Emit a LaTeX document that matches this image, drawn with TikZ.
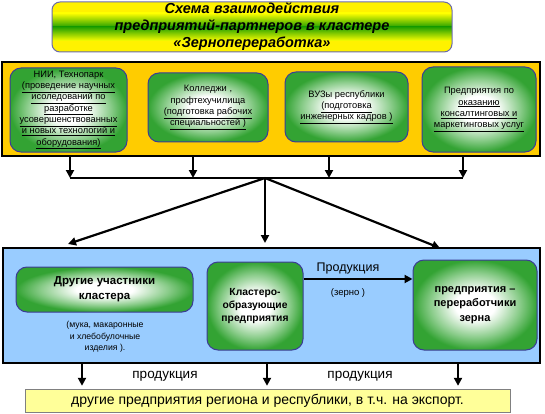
\documentclass[tikz,border=0pt]{standalone}
\usepackage{fontspec}
\setmainfont{Liberation Sans}
\definecolor{goldframe}{HTML}{FFCC00}
\definecolor{blueframe}{HTML}{99CCFF}
\definecolor{exportfill}{HTML}{FFFF99}
\definecolor{gborder}{HTML}{3C3C96}
\definecolor{gmid}{HTML}{8ACC8A}
\definecolor{gdark}{HTML}{33A333}
\definecolor{tborder}{HTML}{6A6AAA}
\definecolor{tgreen}{HTML}{22A000}
\usepackage{tikz}
\usetikzlibrary{positioning, calc, arrows.meta}
\pgfdeclareradialshading{greenglow}{\pgfpoint{0bp}{0bp}}{color(0bp)=(white); color(8bp)=(white); color(18bp)=(gmid); color(25bp)=(gdark); color(50bp)=(gdark)}

\begin{document}
\begin{tikzpicture}[x=1pt, y=-1pt,
  frame/.style={draw, line width=2pt, minimum width=#1, inner sep=0pt},
  gbox/.style={draw=gborder, line width=1pt, rounded corners=11pt, shading=greenglow,
    align=center, inner sep=1pt, minimum width=#1},
  small/.style={font=\fontsize{9.3}{11.3}\selectfont},
  arr/.style={line width=2.2pt, -{Triangle[length=8pt, width=8pt]}},
  lbl/.style={font=\fontsize{13.5}{15}\selectfont},
]

\useasboundingbox (0,0) rectangle (545,414);

% заголовок: желто-зеленая заливка
\begin{scope}
  \clip[rounded corners=8pt] (52,2) rectangle (452,52);
  \fill[yellow] (52,2) rectangle (452,52);
  \shade[top color=yellow, bottom color=tgreen] (52,13) rectangle (452,27.2);
  \shade[top color=tgreen, bottom color=yellow] (52,27) rectangle (452,41);
\end{scope}
\node[draw=tborder, line width=1pt, rounded corners=8pt,
  minimum width=400pt, minimum height=50pt, inner sep=0pt, align=center,
  font=\fontsize{14.5}{17}\selectfont\bfseries\itshape] (title) at (252,27)
  {Схема взаимодействия\\предприятий-партнеров в кластере\\«Зернопереработка»};

% партнеры кластера
\node[frame=538pt, fill=goldframe, minimum height=94pt] (topframe) at (271,109) {};

\node[gbox=117pt, minimum height=84pt, small] (nii) at (68.5,110)
  {НИИ, Технопарк\\\underline{(проведение научных}\\\underline{исоледований по}\\
   \underline{разработке}\\\underline{усовершенствованных}\\\underline{и новых технологий и}\\
   \underline{оборудования)}};
\node[gbox=120pt, minimum height=69pt, small] (college) at (208,107.5)
  {Колледжи ,\\профтехучилища\\\underline{(подготовка рабочих}\\\underline{специальностей )}};
\node[gbox=123pt, minimum height=70pt, small] (vuz) at (346.5,107)
  {ВУЗы республики\\\underline{(подготовка}\\\underline{инженерных кадров )}};
\node[gbox=114pt, minimum height=85pt, small] (consult) at (479,109.5)
  {Предприятия по\\\underline{оказанию}\\\underline{консалтинговых и}\\\underline{маркетинговых услуг}};

% шина
\coordinate (b1) at (70,178);
\coordinate (b2) at (193,178);
\coordinate (b3) at (329,178);
\coordinate (b4) at (463,178);
\coordinate (hub) at (265,178);
\foreach \b in {b1,b2,b3,b4}
  \draw[arr] (\b |- topframe.south) -- (\b);
\draw[line width=2.2pt] (b1) -- (b4);

% ядро кластера
\node[frame=537pt, fill=blueframe, minimum height=115pt] (botframe) at (271.5,305.5) {};

\coordinate (t1) at (68,244);
\coordinate (t2) at (265,243);
\coordinate (t3) at (440,248);
\foreach \t in {t1,t2,t3}
  \draw[arr] (hub) -- (\t);

\node[gbox=177pt, minimum height=45pt, font=\fontsize{11.5}{15}\selectfont\bfseries] (other) at (104.5,289.5)
  {Другие участники\\кластера};
\node[align=center, font=\fontsize{8.7}{11.5}\selectfont] (othernote) at (105,337)
  {(мука, макаронные\\и хлебобулочные\\изделия ).};
\node[gbox=96pt, minimum height=88pt, font=\fontsize{10.3}{13}\selectfont\bfseries] (core) at (255,306)
  {Кластеро-\\образующие\\предприятия};
\node[gbox=124pt, minimum height=90pt, font=\fontsize{11}{14.5}\selectfont\bfseries] (proc) at (475,305)
  {предприятия --\\переработчики\\зерна};

\coordinate (pr) at ([yshift=27pt]core.east);
\draw[arr] (pr) -- (pr -| proc.west);
\node[font=\fontsize{12.5}{15}\selectfont] (prodlbl) at (348,268) {Продукция};
\node[font=\fontsize{9.5}{11}\selectfont] (grain) at (348,293) {(зерно )};

% выход
\node[draw=gray, fill=exportfill, minimum width=485pt, minimum height=23pt, inner sep=0pt,
  font=\fontsize{14}{16}\selectfont] (export) at (267.5,400.5)
  {другие предприятия региона и республики, в т.ч. на экспорт.};
\foreach \x in {82,267,458}
  \draw[arr, shorten >=3pt] (\x,0 |- botframe.south) -- (\x,0 |- export.north);
\node[lbl] (out1) at (165,376) {продукция};
\node[lbl] (out2) at (360,376) {продукция};

\end{tikzpicture}
\end{document}
